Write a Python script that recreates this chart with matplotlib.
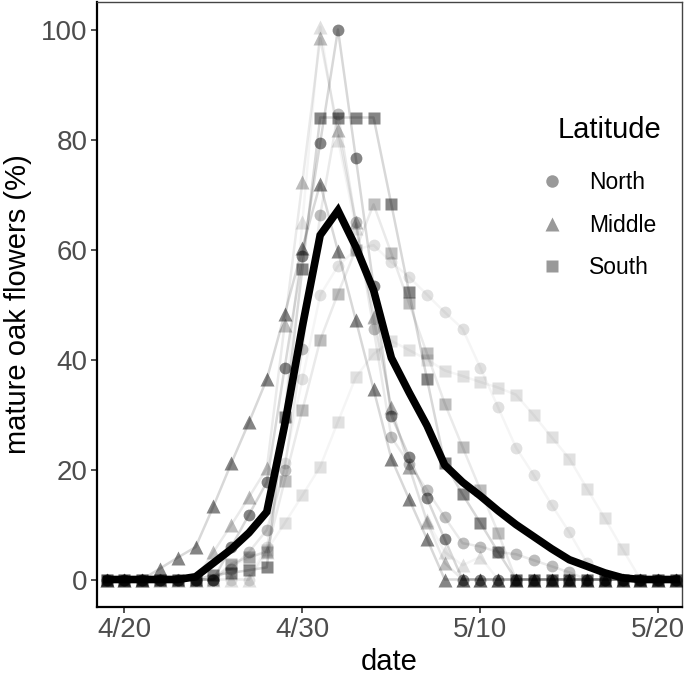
import datetime as dt
import numpy as np
import pandas as pd
import matplotlib
matplotlib.use("Agg")
import matplotlib.pyplot as plt
import matplotlib.dates as mdates
from matplotlib.lines import Line2D

plt.rcParams['font.family'] = ['Liberation Sans', 'DejaVu Sans']

# daily dates 4/19 .. 5/21
dates = pd.date_range("2019-04-19", "2019-05-21", freq="D")

# North (circles)
north_dark = [0, 0, 0, 0, 0, 0, 0, 5.9, 11.8, 17.7, 38.4, 58.8, 79.4, 100, 76.7, 53.4, 29.8,
              22.3, 14.8, 7.3, 0, 0, 0, 0, 0, 0, 0, 0, 0, 0, 0, 0, 0]
north_mid = [0, 0, 0, 0, 0, 0, 0, 2, 5, 9, 20, 42, 66.2, 84.7, 65, 45.6, 25.9,
             21, 16.3, 11.3, 6.6, 6.0, 5.0, 4.6, 3.5, 2.4, 1.3, 0, 0, 0, 0, 0, 0]
north_light = [0, 0, 0, 0, 0, 0, 0, 0, 0, 6, 21.1, 36.4, 51.7, 57, 60, 60.8, 57.7,
               55, 51.8, 48.6, 45.6, 38.5, 31.3, 24, 19, 13.6, 8.6, 3, 0, 0, 0, 0, 0]

# Middle (triangles)
middle_dark = [0, 0, 0, 2.0, 4.0, 5.9, 13.3, 21.1, 28.6, 36.4, 48.2, 60.2, 72, 59.7, 47.2, 34.6, 22,
               14.6, 7.4, 0, 0, 0, 0, 0, 0, 0, 0, 0, 0, 0, 0, 0, 0]
middle_mid = [0, 0, 0, 0, 0, 0, 5.0, 9.9, 15, 20.2, 46.2, 72.3, 98.4, 81.7, 65, 47.7, 31.3,
              20.5, 10.5, 3, 0, 0, 0, 0, 0, 0, 0, 0, 0, 0, 0, 0, 0]
middle_light = [0, 0, 0, 0, 0, 0, 0, 0, 0, 5, 30, 65, 100.5, 80, 64, 48, 31.2,
                20.5, 10.8, 5, 2.6, 4.1, 0, 0, 0, 0, 0, 0, 0, 0, 0, 0, 0]

# South (squares)
south_dark = [0, 0, 0, 0, 0, 0, 0.8, 1.2, 1.7, 2.2, 29.6, 56.5, 84, 84, 84, 84, 68.2,
              52.2, 36.5, 21.1, 15.5, 10.3, 5, 0, 0, 0, 0, 0, 0, 0, 0, 0, 0]
south_mid = [0, 0, 0, 0, 0, 0, 0, 2.9, 4.1, 5, 17.9, 30.8, 43.5, 52, 60, 68.2, 59.3,
             50.2, 41.1, 32, 24.1, 16.3, 8.5, 0, 0, 0, 0, 0, 0, 0, 0, 0, 0]
south_light = [0, 0, 0, 0, 0, 0, 0, 2.6, 3.8, 5.3, 10.2, 15.3, 20.5, 28.7, 36.8, 41, 43.4,
               41.7, 40, 38, 37, 35.9, 34.9, 33.6, 29.9, 25.9, 22, 16.5, 11.1, 5.5, 0, 0, 0]

# overall mean
mean_all = [0, 0, 0, 0, 0, 0.5, 3, 5.5, 8.5, 12.3, 28, 46, 62.6, 67.1, 60.5, 52.6, 40.3,
            34, 28, 20.8, 17.7, 15.2, 12.5, 10, 7.8, 5.6, 3.6, 2.4, 1.2, 0.3, 0, 0, 0]

latitudes = ["North", "Middle", "South"]
tick_dates = ["2019-04-20", "2019-04-30", "2019-05-10", "2019-05-20"]


def draw_series(ax, y, marker, alpha, ms):
    ax.plot(dates, y, color="black", alpha=alpha * 0.32, lw=1.8, zorder=2)
    ax.plot(dates, y, ls="none", marker=marker, ms=ms, mec="none",
            color="black", alpha=alpha, zorder=3)


def main():
    fig = plt.figure(figsize=(6.86, 6.82), dpi=100)
    ax = fig.add_axes([97 / 686, 1 - 607 / 682, 585 / 686, 605 / 682])

    alphas = [0.48, 0.26, 0.12]
    groups = [
        ("o", 8.5, [north_dark, north_mid, north_light]),
        ("^", 9.5, [middle_dark, middle_mid, middle_light]),
        ("s", 8, [south_dark, south_mid, south_light]),
    ]
    for marker, ms, series in groups:
        for y, a in zip(series, alphas):
            draw_series(ax, y, marker, a, ms)

    ax.plot(dates, mean_all, color="black", lw=5.5, zorder=5,
            solid_joinstyle="miter")

    ax.set_ylim(-5, 105)
    ax.set_yticks([0, 20, 40, 60, 80, 100])
    ax.set_xlim(pd.Timestamp("2019-04-18 11:00"), pd.Timestamp("2019-05-21 08:00"))
    ax.set_xticks(pd.to_datetime(tick_dates))
    ax.xaxis.set_major_formatter(
        matplotlib.ticker.FuncFormatter(
            lambda v, p: f"{mdates.num2date(v).month}/{mdates.num2date(v).day}"))

    ax.tick_params(direction="out", length=4, width=1.2, color="#333333",
                   labelsize=20, labelcolor="#4d4d4d", pad=3)
    for side in ["left", "bottom"]:
        ax.spines[side].set_color("black")
        ax.spines[side].set_linewidth(1.6)
    for side in ["top", "right"]:
        ax.spines[side].set_color("#444444")
        ax.spines[side].set_linewidth(1.0)

    ax.set_xlabel("date", fontsize=21, labelpad=4)
    ax.set_ylabel("mature oak flowers (%)", fontsize=21, labelpad=6)

    # legend title placed by hand, entries below it
    ax.text(0.788, 0.788, "Latitude", transform=ax.transAxes, fontsize=21,
            ha="left", va="center")
    handles = [Line2D([], [], ls="none", marker=m, ms=s, mec="none",
                      color="black", alpha=0.4)
               for m, s in [("o", 9), ("^", 10), ("s", 8)]]
    ax.legend(handles, latitudes, loc="upper left",
              bbox_to_anchor=(0.743, 0.735), frameon=False, fontsize=16.5,
              handlelength=1.0, handletextpad=1.1,
              labelspacing=0.85, borderaxespad=0)

    fig.savefig("out.png", dpi=100)


if __name__ == "__main__":
    main()
